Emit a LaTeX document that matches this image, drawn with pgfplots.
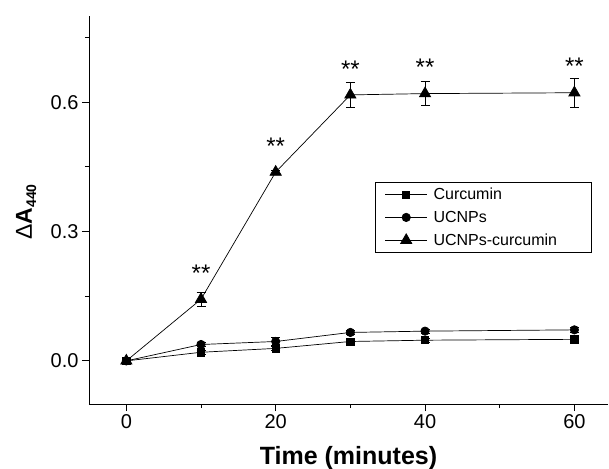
\documentclass[border=0pt]{standalone}
\usepackage{fontspec}
\setmainfont{Liberation Sans}
\usepackage{pgfplots}
\pgfplotsset{compat=1.18}
\begin{document}
\begin{tikzpicture}
\begin{axis}[
  at={(0,0)}, anchor=south west,
  scale only axis, width=519bp, height=388bp,
  xmin=-5, xmax=64.5, ymin=-0.1, ymax=0.8,
  axis x line*=bottom, axis y line*=left,
  axis line style={line width=0.9bp, black},
  xtick={0,20,40,60}, minor xtick={10,30,50},
  ytick={0,0.3,0.6}, minor ytick={0.15,0.45,0.75},
  tick align=outside, major tick length=7bp, minor tick length=4bp,
  every tick/.style={line width=0.9bp, black},
  yticklabel style={/pgf/number format/.cd, fixed, fixed zerofill, precision=1},
  /pgf/number format/assume math mode=true,
  ticklabel style={font=\fontsize{20bp}{23bp}\selectfont},
  xlabel={\textbf{Time (minutes)}},
  xlabel style={at={(axis description cs:0.5,-0.157)}, anchor=base, font=\fontsize{25bp}{28bp}\selectfont},
  legend style={at={(0.969,0.573)}, anchor=north east, draw=black, line width=0.7bp,
    font=\fontsize{16bp}{19bp}\selectfont, row sep=6bp, column sep=4bp, inner xsep=10bp, inner ysep=4bp},
  legend cell align=left,
  legend image code/.code={\draw[mark repeat=2,mark phase=2,#1] plot coordinates {(0bp,0bp) (21bp,0bp) (42bp,0bp)};},
  every axis plot/.append style={line width=0.7bp, black},
  error bars/error bar style={line width=0.7bp, black},
  error bars/error mark options={rotate=90, mark size=4.5bp, line width=0.7bp, black},
  clip=false,
]
\addplot[mark=square*, mark size=3.6bp, mark options={solid, fill=black}, error bars/.cd, y dir=both, y explicit]
  coordinates {(0,0) (10,0.020) +- (0,0.004) (20,0.029) +- (0,0.005) (30,0.045) +- (0,0.004) (40,0.048) +- (0,0.004) (60,0.050) +- (0,0.004)};
\addlegendentry{\makebox[146bp][l]{Curcumin}}
\addplot[mark=*, mark size=4.2bp, mark options={solid, fill=black}, error bars/.cd, y dir=both, y explicit]
  coordinates {(0,0) (10,0.038) +- (0,0.005) (20,0.045) +- (0,0.010) (30,0.066) +- (0,0.005) (40,0.069) +- (0,0.005) (60,0.072) +- (0,0.005)};
\addlegendentry{UCNPs}
\addplot[mark=triangle*, mark size=6.5bp, mark options={solid, fill=black}, error bars/.cd, y dir=both, y explicit]
  coordinates {(0,0) (10,0.143) +- (0,0.017) (20,0.438) +- (0,0.005) (30,0.617) +- (0,0.030) (40,0.620) +- (0,0.028) (60,0.622) +- (0,0.034)};
\addlegendentry{UCNPs-curcumin}
\addplot[draw=none, forget plot, nodes near coords={**},
  every node near coord/.style={anchor=center, yshift=26bp, font=\fontsize{24bp}{26bp}\selectfont}]
  coordinates {(10,0.143) (20,0.438) (30,0.617) (40,0.620) (60,0.622)};
\node[rotate=90, anchor=center, font=\fontsize{23bp}{26bp}\selectfont]
  at (rel axis cs:-0.121,0.495) {Δ\textbf{A\raisebox{-0.35ex}{\fontsize{14bp}{16bp}\selectfont 440}}};
\end{axis}
\pgfresetboundingbox
\path (-89bp,-65bp) rectangle (520bp,404bp);
\end{tikzpicture}
\end{document}
